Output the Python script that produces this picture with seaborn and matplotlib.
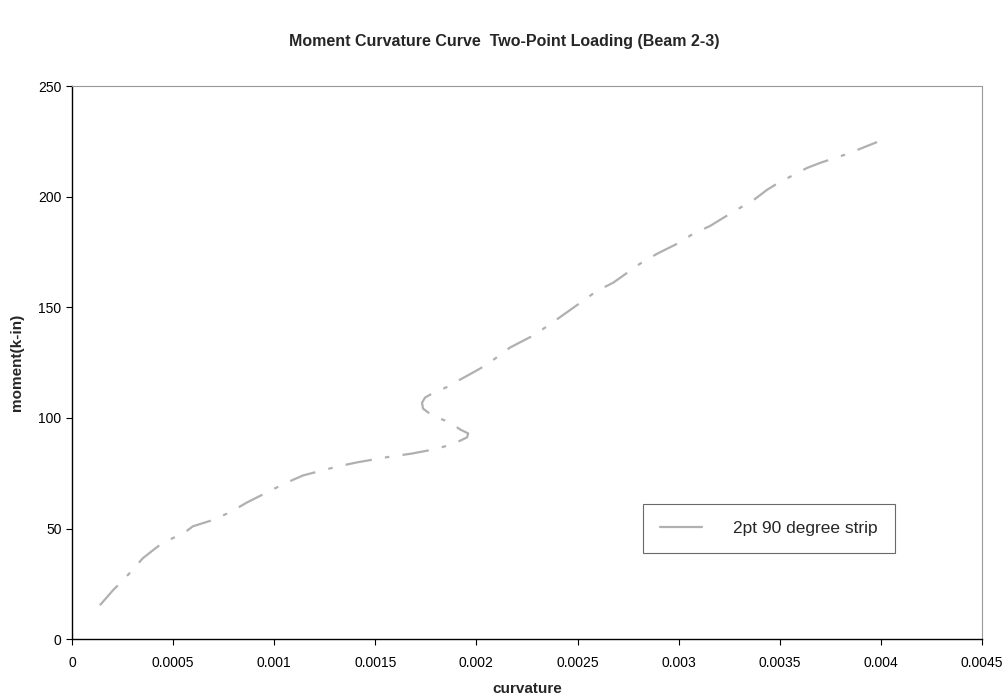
import matplotlib
matplotlib.use("Agg")
import matplotlib.pyplot as plt
import seaborn as sns
import pandas as pd

# curvature / moment readings (Beam 2-3, two-point loading)
curvature = [0.000138, 0.000203, 0.000262, 0.000351, 0.000401, 0.000445, 0.000559, 0.000598,
             0.000692, 0.000781, 0.000866, 0.000964, 0.001053, 0.001143, 0.001202, 0.001316,
             0.001410, 0.001548, 0.001682, 0.001786, 0.001880, 0.001954, 0.001959, 0.001919,
             0.001870, 0.001781, 0.001736, 0.001731, 0.001746, 0.001781, 0.001870, 0.001919,
             0.001983, 0.002018, 0.002092, 0.002166, 0.002280, 0.002354, 0.002473, 0.002597,
             0.002676, 0.002809, 0.002893, 0.002992, 0.003071, 0.003156, 0.003220, 0.003378,
             0.003437, 0.003492, 0.003635, 0.003700, 0.003833, 0.003981]
moment = [15.3, 22.1, 27.5, 36.6, 40.2, 43.3, 48.3, 51.0,
          53.7, 57.3, 61.8, 66.3, 70.4, 74.0, 75.4, 78.1,
          79.9, 82.1, 83.9, 85.7, 88.0, 91.2, 93.0, 94.8,
          97.9, 101.1, 104.2, 106.9, 109.2, 111.0, 114.6, 117.3,
          120.5, 122.3, 126.8, 131.8, 137.2, 141.7, 149.4, 157.5,
          161.1, 169.7, 174.2, 178.7, 183.2, 186.8, 190.4, 199.0,
          203.1, 206.2, 213.0, 215.3, 219.3, 224.7]
series_name = "2pt 90 degree strip"

x_ticks = [0, 0.0005, 0.001, 0.0015, 0.002, 0.0025, 0.003, 0.0035, 0.004, 0.0045]
x_tick_labels = ["0", "0.0005", "0.001", "0.0015", "0.002", "0.0025", "0.003", "0.0035", "0.004", "0.0045"]
y_ticks = [0, 50, 100, 150, 200, 250]

df = pd.DataFrame({"curvature": curvature, "moment": moment})

sns.set_style("white")
plt.rcParams["font.family"] = ["Liberation Sans", "DejaVu Sans"]

fig = plt.figure(figsize=(10.08, 7), dpi=100)
ax = fig.add_axes([0.0714, 0.087, 0.9028, 0.790])

# estimator=None + sort=False so the S-bend near 0.002 is drawn in order
sns.lineplot(data=df, x="curvature", y="moment", sort=False, estimator=None, ax=ax,
             color="#b0b0b0", linewidth=1.6, linestyle=(0, (12, 6, 2, 6)),
             label=series_name)

ax.set_xlim(0, 0.0045)
ax.set_ylim(0, 250)
ax.set_xticks(x_ticks)
ax.set_xticklabels(x_tick_labels)
ax.set_yticks(y_ticks)
ax.tick_params(axis="both", direction="out", length=4, width=0.8, labelsize=10,
               colors="black", bottom=True, left=True)
ax.tick_params(axis="x", pad=8)

for side in ["left", "bottom"]:
    ax.spines[side].set_color("black")
    ax.spines[side].set_linewidth(1.0)
for side in ["top", "right"]:
    ax.spines[side].set_color("#999999")
    ax.spines[side].set_linewidth(0.8)
    ax.spines[side].set_linestyle((0, (1, 1)))

ax.set_xlabel("curvature", fontsize=11, fontweight="bold", labelpad=9)
ax.set_ylabel("moment(k-in)", fontsize=11, fontweight="bold", labelpad=10)
fig.suptitle("Moment Curvature Curve  Two-Point Loading (Beam 2-3)",
             fontsize=11.5, fontweight="bold", y=0.952)

leg = ax.legend(loc="center", bbox_to_anchor=(0.766, 0.20), fontsize=12.5,
                frameon=True, fancybox=False, edgecolor="#444444",
                handlelength=2.4, handletextpad=1.8, borderpad=1.0,
                borderaxespad=0)
leg.get_frame().set_linewidth(0.8)
leg.get_lines()[0].set_linestyle("-")

fig.savefig("out.png", dpi=100)
